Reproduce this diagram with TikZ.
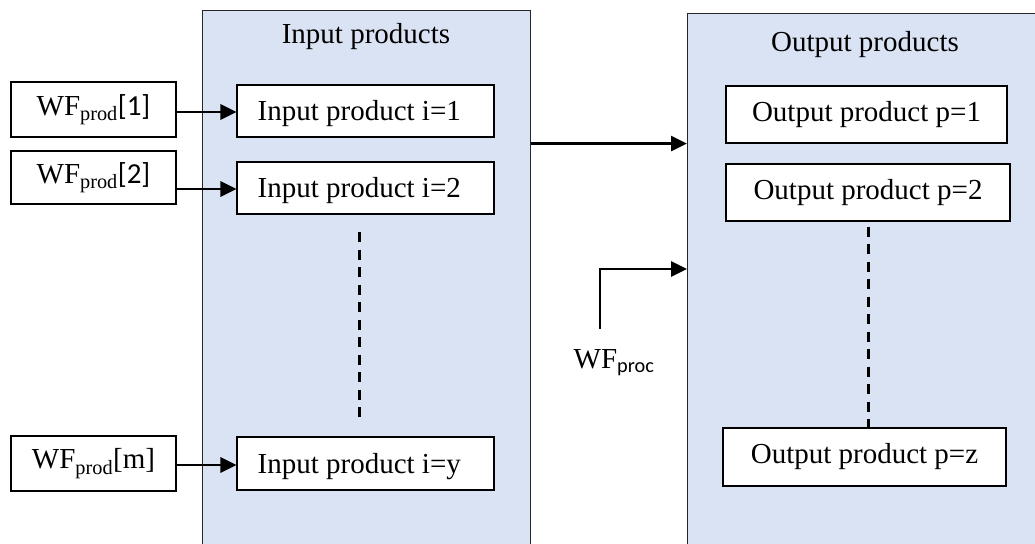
\documentclass[tikz,border=0pt]{standalone}
\usepackage{fontspec}
\setmainfont{Liberation Serif}
\newfontfamily\calib{Carlito}
\usetikzlibrary{arrows.meta}

\definecolor{panelblue}{HTML}{DAE3F3}

\begin{document}
\begin{tikzpicture}[x=1pt,y=-1pt,
  every node/.style={font=\fontsize{29}{34}\selectfont},
  panel/.style={draw=black!85, line width=1.2pt, fill=panelblue,
    rectangle, inner sep=0pt, anchor=north west},
  itembox/.style={draw=black, line width=1.1pt, fill=white,
    rectangle, inner sep=0pt},
  inbox/.style={itembox, minimum width=257pt},
  intext/.style={anchor=west, inner sep=0pt},
  wfbox/.style={draw=black, line width=1.1pt, fill=white, rectangle,
    inner sep=0pt, minimum width=165pt},
  flow/.style={line width=2.8pt, -{Triangle[length=16pt,width=15pt]}},
  gap/.style={line width=3pt, dash pattern=on 10pt off 7.5pt}
]
\clip (0,0) rectangle (1035,543);
\fill[white] (0,0) rectangle (1035,543);

% the two product panels (they run past the lower and right edges)
\node[panel, minimum width=328pt, minimum height=560pt] (lp) at (202,10) {};
\node[panel, minimum width=360pt, minimum height=560pt] (rp) at (687,13) {};
\node (lt) at (366,37) {Input products};
\node (rt) at (865,45) {Output products};

% input products, text set flush left inside the box
\node[inbox, minimum height=52pt] (in1) at (365.5,111) {};
\node[intext] (in1t) at ([xshift=21pt,yshift=-3pt]in1.west) {Input product i=1};
\node[inbox, minimum height=52pt] (in2) at (365.5,188) {};
\node[intext] (in2t) at ([xshift=21pt,yshift=-3pt]in2.west) {Input product i=2};
\node[inbox, minimum height=53pt] (iny) at (365.5,463.5) {};
\node[intext] (inyt) at ([xshift=21pt,yshift=-3pt]iny.west) {Input product i=y};

% output products
\node[itembox, minimum width=281pt, minimum height=57pt] (out1) at (866.5,114.5) {Output product p=1};
\node[itembox, minimum width=284pt, minimum height=57pt] (out2) at (868,192.5) {Output product p=2};
\node[itembox, minimum width=283pt, minimum height=58pt] (outz) at (864.5,457) {Output product p=z};

% water footprints of the products
\node[wfbox, minimum height=55pt] (wf1) at (93.5,109.5) {WF\textsubscript{prod}{\calib[1]}};
\node[wfbox, minimum height=53pt] (wf2) at (93.5,177.5) {WF\textsubscript{prod}{\calib[2]}};
\node[wfbox, minimum height=55pt] (wfm) at (93.5,463.5) {WF\textsubscript{prod}[m]};

\draw[flow] (wf1.east) ++(0,2.5) coordinate (a1) -- (a1 -| in1.west);
\draw[flow] (wf2.east) ++(0,11.5) coordinate (a2) -- (a2 -| in2.west);
\draw[flow] (wfm.east) ++(0,1.5) coordinate (am) -- (am -| iny.west);

% hand-over from input panel to output panel
\coordinate (hand) at (lp.north east |- out1.south);
\draw[flow] (hand) -- (hand -| rp.west);

% process water footprint
\coordinate (procin) at (600,329);
\coordinate (procturn) at (600,269);
\draw[flow] (procin) -- (procturn) -- (procturn -| rp.west);
\node (proc) at (614,363) {WF\textsubscript{\calib proc}};

% omitted items
\coordinate (ltop) at (359,232);
\coordinate (lbot) at (359,420);
\draw[gap] (ltop) -- (lbot);
\draw[gap] (out2.south) ++(0,5) coordinate (rtop) -- (rtop |- outz.north);
\end{tikzpicture}
\end{document}
